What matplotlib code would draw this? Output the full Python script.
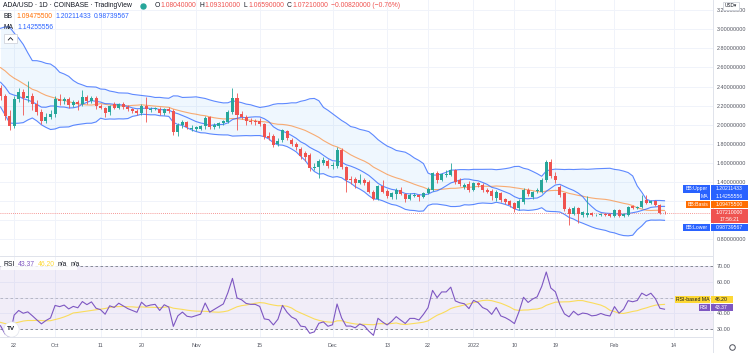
import numpy as np
import pandas as pd
import matplotlib
matplotlib.use('Agg')
import matplotlib.pyplot as plt
from matplotlib.patches import Rectangle
from matplotlib.lines import Line2D

plt.rcParams['font.family'] = ['Liberation Sans', 'DejaVu Sans']

# ---- daily candles ADA/USD, 2021-09-19 .. 2022-02-12 ----
start_date = '2021-09-19'
open_ = [2.38, 2.30, 2.09, 1.99, 2.27, 2.34, 2.28, 2.30, 2.22, 2.13,
         2.04, 2.08, 2.11, 2.27, 2.25, 2.27, 2.21, 2.24, 2.22, 2.29,
         2.25, 2.28, 2.20, 2.18, 2.13, 2.22, 2.18, 2.22, 2.19, 2.16,
         2.14, 2.12, 2.20, 2.15, 2.17, 2.17, 2.12, 2.16, 2.14, 1.92,
         2.00, 2.03, 1.96, 1.96, 1.96, 1.99, 2.08, 1.98, 1.99, 2.02,
         2.03, 2.13, 2.28, 2.11, 2.08, 2.04, 2.04, 2.04, 2.01, 1.88,
         1.88, 1.80, 1.84, 1.93, 1.84, 1.80, 1.75, 1.70, 1.68, 1.55,
         1.56, 1.60, 1.62, 1.57, 1.57, 1.74, 1.56, 1.43, 1.43, 1.39,
         1.42, 1.40, 1.30, 1.22, 1.36, 1.31, 1.24, 1.27, 1.32, 1.27,
         1.22, 1.25, 1.26, 1.24, 1.28, 1.32, 1.49, 1.42, 1.47, 1.47,
         1.53, 1.42, 1.35, 1.38, 1.32, 1.39, 1.37, 1.32, 1.31, 1.23,
         1.28, 1.22, 1.20, 1.18, 1.13, 1.19, 1.32, 1.24, 1.31, 1.30,
         1.42, 1.61, 1.46, 1.35, 1.28, 1.12, 1.07, 1.13, 1.05, 1.05,
         1.08, 1.05, 1.05, 1.07, 1.06, 1.04, 1.11, 1.04, 1.05, 1.15,
         1.13, 1.14, 1.21, 1.18, 1.20, 1.155, 1.0804]
high = [2.42, 2.32, 2.15, 2.30, 2.38, 2.37, 2.46, 2.33, 2.26, 2.16,
        2.12, 2.15, 2.30, 2.32, 2.29, 2.29, 2.26, 2.26, 2.36, 2.31,
        2.30, 2.30, 2.22, 2.19, 2.21, 2.24, 2.23, 2.24, 2.21, 2.18,
        2.16, 2.22, 2.29, 2.19, 2.19, 2.19, 2.18, 2.19, 2.16, 2.02,
        2.05, 2.04, 2.00, 1.99, 2.00, 2.09, 2.09, 2.02, 2.03, 2.05,
        2.15, 2.38, 2.33, 2.14, 2.10, 2.07, 2.06, 2.07, 2.02, 1.92,
        1.90, 1.86, 1.96, 1.95, 1.86, 1.82, 1.77, 1.72, 1.70, 1.60,
        1.64, 1.66, 1.64, 1.61, 1.77, 1.76, 1.57, 1.46, 1.45, 1.48,
        1.44, 1.42, 1.32, 1.37, 1.42, 1.33, 1.30, 1.34, 1.35, 1.28,
        1.28, 1.29, 1.27, 1.30, 1.35, 1.51, 1.52, 1.49, 1.53, 1.60,
        1.54, 1.44, 1.39, 1.41, 1.40, 1.40, 1.39, 1.34, 1.33, 1.32,
        1.30, 1.23, 1.21, 1.19, 1.22, 1.34, 1.34, 1.31, 1.34, 1.44,
        1.63, 1.64, 1.50, 1.37, 1.29, 1.14, 1.15, 1.14, 1.10, 1.25,
        1.09, 1.07, 1.08, 1.08, 1.07, 1.12, 1.12, 1.08, 1.15, 1.16,
        1.15, 1.26, 1.26, 1.21, 1.21, 1.165, 1.0931]
low = [2.26, 2.05, 1.94, 1.97, 2.24, 2.10, 2.24, 2.15, 2.10, 2.01,
       2.02, 2.06, 2.08, 2.21, 2.22, 2.18, 2.19, 2.15, 2.20, 2.22,
       2.23, 2.17, 2.16, 2.08, 2.10, 2.16, 2.16, 2.17, 2.14, 2.12,
       2.10, 2.10, 2.03, 2.13, 2.15, 2.10, 2.10, 2.12, 1.89, 1.88,
       1.97, 1.96, 1.93, 1.93, 1.94, 1.96, 1.96, 1.96, 1.97, 2.00,
       2.02, 2.11, 1.95, 2.06, 2.00, 2.01, 2.00, 1.99, 1.85, 1.84,
       1.77, 1.78, 1.82, 1.84, 1.78, 1.74, 1.64, 1.62, 1.52, 1.53,
       1.44, 1.58, 1.55, 1.54, 1.55, 1.54, 1.30, 1.38, 1.34, 1.38,
       1.37, 1.29, 1.21, 1.21, 1.29, 1.23, 1.22, 1.22, 1.26, 1.19,
       1.21, 1.24, 1.20, 1.23, 1.27, 1.31, 1.39, 1.41, 1.45, 1.46,
       1.38, 1.36, 1.33, 1.30, 1.31, 1.35, 1.30, 1.28, 1.21, 1.20,
       1.19, 1.17, 1.14, 1.09, 1.11, 1.17, 1.25, 1.22, 1.29, 1.29,
       1.40, 1.44, 1.39, 1.24, 1.10, 0.95, 1.05, 0.97, 1.03, 1.03,
       1.04, 1.04, 1.04, 1.04, 1.03, 1.03, 1.03, 1.03, 1.04, 1.12,
       1.12, 1.13, 1.17, 1.17, 1.15, 1.07, 1.0659]
close = [2.30, 2.09, 1.99, 2.27, 2.34, 2.28, 2.30, 2.22, 2.13, 2.04,
         2.08, 2.11, 2.27, 2.25, 2.27, 2.21, 2.24, 2.22, 2.29, 2.25,
         2.28, 2.20, 2.18, 2.12, 2.20, 2.18, 2.22, 2.19, 2.16, 2.14,
         2.12, 2.20, 2.16, 2.17, 2.175, 2.12, 2.16, 2.14, 1.92, 2.00,
         2.03, 1.98, 1.97, 1.98, 1.99, 2.07, 1.98, 2.00, 2.02, 2.04,
         2.13, 2.28, 2.10, 2.08, 2.04, 2.03, 2.03, 2.01, 1.87, 1.86,
         1.79, 1.83, 1.94, 1.86, 1.80, 1.77, 1.67, 1.66, 1.55, 1.56,
         1.62, 1.63, 1.57, 1.58, 1.74, 1.56, 1.42, 1.42, 1.39, 1.42,
         1.39, 1.30, 1.22, 1.36, 1.30, 1.25, 1.28, 1.32, 1.27, 1.22,
         1.26, 1.26, 1.24, 1.28, 1.33, 1.49, 1.42, 1.48, 1.48, 1.53,
         1.40, 1.38, 1.37, 1.32, 1.39, 1.37, 1.32, 1.30, 1.25, 1.30,
         1.21, 1.19, 1.16, 1.12, 1.20, 1.32, 1.27, 1.30, 1.32, 1.42,
         1.61, 1.46, 1.42, 1.26, 1.12, 1.07, 1.13, 1.07, 1.09, 1.08,
         1.05, 1.055, 1.07, 1.05, 1.04, 1.11, 1.04, 1.07, 1.14, 1.13,
         1.14, 1.20, 1.18, 1.20, 1.16, 1.0804, 1.0721]
# closes before the first visible candle (estimated from where bands / RSI start)
history_close = [2.58, 2.48, 2.55, 2.88, 2.65, 2.68, 2.55, 2.70, 2.82, 2.80,
                 2.76, 2.76, 2.86, 2.95, 2.86, 2.87, 2.90, 2.83, 2.45, 2.55,
                 2.52, 2.41, 2.54, 2.60, 2.43, 2.44, 2.51, 2.43, 2.39, 2.37]

tick_dates = ['2021-09-22', '2021-10-01', '2021-10-11', '2021-10-20', '2021-11-01',
              '2021-11-15', '2021-12-01', '2021-12-13', '2021-12-22', '2022-01-01',
              '2022-01-10', '2022-01-19', '2022-02-01', '2022-02-14']
tick_labels = ['22', 'Oct', '11', '20', 'Nov', '15', 'Dec', '13', '22', '2022',
               '10', '19', 'Feb', '14']
price_ticks = [0.8, 1.0, 1.2, 1.4, 1.6, 1.8, 2.0, 2.2, 2.4, 2.6, 2.8, 3.0, 3.2]
hidden_price = [1.0, 1.2]      # covered by the indicator tags in the reference
rsi_ticks = [30, 40, 50, 60, 70]
hidden_rsi = [50]

o, h, l, c = map(np.array, (open_, high, low, close))
n = len(c)
x = np.arange(n)
nh = len(history_close)

# indicators
s = pd.Series(history_close + close)
basis = s.rolling(20).mean()
dev = s.rolling(20).std(ddof=0)
upper = (basis + 2 * dev).values[nh:]
lower = (basis - 2 * dev).values[nh:]
basis = basis.values[nh:]
ma9 = s.rolling(9).mean().values[nh:]
d = s.diff()
gain = d.clip(lower=0).ewm(alpha=1 / 14, adjust=False).mean()
loss = (-d.clip(upper=0)).ewm(alpha=1 / 14, adjust=False).mean()
rsi_full = 100 - 100 / (1 + gain / loss)
rsi_ma = rsi_full.rolling(14).mean().values[nh:]
rsi = rsi_full.values[nh:]

UP, DN = '#26a69a', '#ef5350'
BLUE, ORANGE, PURPLE, YELLOW = '#2962ff', '#ff6d00', '#7e57c2', '#fdd835'
GRID, TXT = '#f0f3fa', '#50535e'

W, H = 750, 353
fig = plt.figure(figsize=(7.5, 3.53), dpi=100)


def rect(x0, y0, x1, y1):
    return [x0 / W, 1 - y1 / H, (x1 - x0) / W, (y1 - y0) / H]


ax = fig.add_axes(rect(0, 0, 713, 256))
rax = fig.add_axes(rect(0, 256, 713, 337), sharex=ax)

# bollinger bands + MA
ax.fill_between(x, lower, upper, color='#2196f3', alpha=0.07, lw=0)
ax.plot(x, upper, color=BLUE, lw=0.8, alpha=0.75)
ax.plot(x, lower, color=BLUE, lw=0.8, alpha=0.75)
ax.plot(x, basis, color=ORANGE, lw=0.8, alpha=0.55)
ax.plot(x, ma9, color=BLUE, lw=0.8, alpha=0.75)

# candles
cols = np.where(c >= o, UP, DN)
ax.vlines(x, l, h, colors=cols, lw=0.6, zorder=3)
ax.bar(x, np.maximum(np.abs(c - o), 0.004), bottom=np.minimum(o, c), width=0.66,
       color=cols, lw=0, zorder=4)
ax.axhline(c[-1], color=DN, lw=0.6, ls=(0, (1, 1.5)), alpha=0.8, zorder=2)

ax.set_ylim(0.625, 3.307)
ax.set_yticks(price_ticks)
ax.set_yticklabels(['' if v in hidden_price else f'{v:.8f}' for v in price_ticks])

# RSI pane
rax.axhspan(30, 70, color=PURPLE, alpha=0.1, lw=0)
for lv, a in ((70, 1), (50, 0.5), (30, 1)):
    rax.axhline(lv, color='#787b86', lw=0.6, ls=(0, (3, 3)), alpha=a)
rax.plot(x, rsi_ma, color=YELLOW, lw=0.8, alpha=0.8)
rax.plot(x, rsi, color=PURPLE, lw=0.8)
rax.set_ylim(25.2, 76.1)
rax.set_yticks(rsi_ticks)
rax.set_yticklabels(['' if v in hidden_rsi else f'{v:.2f}' for v in rsi_ticks])

t0 = pd.Timestamp(start_date)
tick_pos = [(pd.Timestamp(t) - t0).days for t in tick_dates]
rax.set_xticks(tick_pos)
rax.set_xticklabels(tick_labels)
ax.set_xlim(-0.11, 156.66)

for a in (ax, rax):
    a.yaxis.tick_right()
    a.tick_params(axis='y', length=0, pad=2.8, labelsize=3.9, labelcolor=TXT)
    a.grid(True, color=GRID, lw=0.7)
    a.set_axisbelow(True)
    for sp in a.spines.values():
        sp.set_visible(False)
    a.spines['right'].set_visible(True)
    a.spines['right'].set_color('#e0e3eb')
    a.spines['right'].set_linewidth(0.7)
ax.tick_params(axis='x', length=0, labelbottom=False)
rax.tick_params(axis='x', length=0, pad=4.5, labelsize=3.9, labelcolor=TXT)
for sp in ('top', 'bottom'):
    rax.spines[sp].set_visible(True)
    rax.spines[sp].set_color('#e0e3eb')
    rax.spines[sp].set_linewidth(0.7)
fig.add_artist(Line2D([713 / W] * 2, [0, 16 / H], color='#e0e3eb', lw=0.7))


# ---- overlays: legends and axis tags ----
def fy(y):
    return 1 - y / H


def tag(x0, x1, y0, y1, color, text, tcolor='white', size=3.7):
    fig.add_artist(Rectangle((x0 / W, fy(y1)), (x1 - x0) / W, (y1 - y0) / H,
                             transform=fig.transFigure, color=color, lw=0, zorder=5))
    fig.text((x0 + x1) / 2 / W, fy((y0 + y1) / 2), text, color=tcolor, fontsize=size,
             ha='center', va='center', zorder=6, linespacing=1.5)


tag(683, 710, 185, 192.6, BLUE, 'BB:Upper')
tag(710.5, 748, 185, 192.6, BLUE, '1.20211433')
tag(699.5, 710, 193.3, 200.4, BLUE, 'MA')
tag(710.5, 748, 193.3, 200.4, BLUE, '1.14255556')
tag(686, 710, 201, 208, ORANGE, 'BB:Basis')
tag(710.5, 748, 201, 208, ORANGE, '1.09475500')
tag(710.5, 748, 208.5, 223.3, DN, '1.07210000\n17:56:21')
tag(683, 710, 224, 231, BLUE, 'BB:Lower')
tag(710.5, 748, 224, 231, BLUE, '0.98739567')
tag(675, 710, 296, 302.7, YELLOW, 'RSI-based MA', tcolor='#131722')
tag(710.5, 733, 296, 302.7, YELLOW, '46.20', tcolor='#131722')
tag(698.5, 710, 304, 310.5, PURPLE, 'RSI')
tag(710.5, 733, 304, 310.5, PURPLE, '43.37')

renderer = fig.canvas.get_renderer()


def row(x0, y, parts, size):
    xx = x0
    for txt, col, gap in parts:
        t = fig.text(xx / W, fy(y), txt, color=col, fontsize=size, ha='left',
                     va='center', zorder=7)
        xx += t.get_window_extent(renderer).width + gap
    return xx


DARK = '#131722'
row(3, 5.5, [('ADA/USD · 1D · COINBASE · TradingView', DARK, 0)], 4.9)
fig.add_artist(Line2D([143 / W], [fy(5.5)], marker='o', ms=3.6, color=UP, lw=0))
row(155, 5.5, [('O', DARK, 0.5), ('1.08040000', DN, 3), ('H', DARK, 0.5), ('1.09310000', DN, 3),
               ('L', DARK, 0.5), ('1.06590000', DN, 3), ('C', DARK, 0.5), ('1.07210000', DN, 3),
               ('−0.00820000 (−0.76%)', DN, 0)], 4.9)
row(4, 16, [('BB', DARK, 3), ('1.09475500', ORANGE, 3), ('1.20211433', BLUE, 3),
            ('0.98739567', BLUE, 0)], 4.9)
row(4, 27.5, [('MA', DARK, 3), ('1.14255556', BLUE, 0)], 4.9)
fig.add_artist(Rectangle((4 / W, fy(43)), 13 / W, 8.5 / H, transform=fig.transFigure,
                         facecolor='white', edgecolor='#d1d4dc', lw=0.6, zorder=7))
fig.add_artist(Line2D([8.3 / W, 10.5 / W, 12.7 / W], [fy(40), fy(37.6), fy(40)],
                      color=DARK, lw=0.6, zorder=8))

fig.add_artist(Rectangle((1 / W, fy(269.5)), 76 / W, 10 / H, transform=fig.transFigure,
                         facecolor='white', edgecolor='none', alpha=0.85, zorder=6))
row(3.5, 264.5, [('RSI', DARK, 3), ('43.37', PURPLE, 3), ('46.20', YELLOW, 3),
                 ('n/a', DARK, 3), ('n/a', DARK, 0)], 4.9)

# USD button, logo, settings gear
fig.add_artist(Rectangle((723 / W, fy(9.5)), 15.5 / W, 8 / H, transform=fig.transFigure,
                         facecolor='white', edgecolor='#d1d4dc', lw=0.6, zorder=7))
fig.text(730.7 / W, fy(5.6), 'USD▾', fontsize=3.4, color=DARK, ha='center', va='center', zorder=8)
fig.add_artist(Line2D([11 / W], [fy(329)], marker='o', ms=11, mfc='white', mec='#e0e3eb',
                      mew=0.5, lw=0, zorder=7))
fig.text(11 / W, fy(329), 'TV', fontsize=4.6, fontweight='bold', color=DARK,
         ha='center', va='center', zorder=8)
fig.add_artist(Line2D([732 / W], [fy(347)], marker='o', ms=4, mfc='white', mec='#50535e',
                      mew=0.7, lw=0, zorder=7))

fig.savefig('out.png', dpi=100, facecolor='white')
